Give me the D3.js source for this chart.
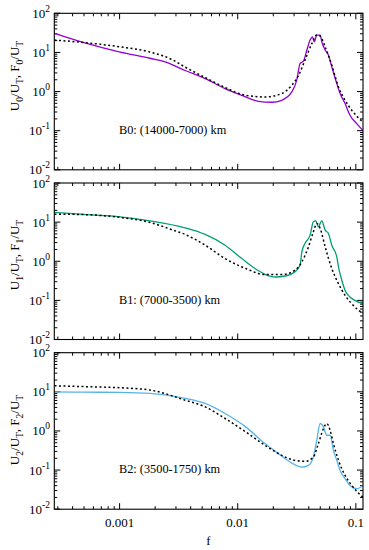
<!DOCTYPE html>
<html><head><meta charset="utf-8">
<script src="https://cdn.jsdelivr.net/npm/d3@7"></script>
<style>body{margin:0;background:#fff}svg{display:block}</style>
</head><body>
<script>
// ---- data (f in x, ratios in y) ----
const panelNames = ["B0: (14000-7000) km", "B1: (7000-3500) km", "B2: (3500-1750) km"];
const panelSubs = ["0", "1", "2"];
const panelColors = ["#9400D3", "#009E73", "#56B4E9"];
const yTicks = [0.01, 0.1, 1, 10, 100];
const yTickExp = ["-2", "-1", "0", "1", "2"];
const xTicks = [0.001, 0.01, 0.1];
const xTickLabels = ["0.001", "0.01", "0.1"];

const b0F = [0.000281,0.000491,0.00101,0.00181,0.00250,0.00300,0.00359,0.0053,0.00782,0.01083,0.01497,0.01945,0.0236,0.0287,0.0316,0.0337,0.0360,0.0385,0.0410,0.0429,0.0446,0.0467,0.0499,0.0515,0.0550,0.0586,0.0626,0.0690,0.0736,0.0811,0.0892,0.1018,0.1145];
const b0U = [30.7,18.0,10.2,7.1,5.6,4.4,3.45,2.15,1.19,0.80,0.564,0.532,0.598,0.977,1.95,5.2,5.98,11.5,20.7,25.1,18.7,27.8,27.8,18.7,11.5,8.53,4.27,1.60,0.889,0.492,0.247,0.151,0.102];
const b0FitF = [0.000281,0.000491,0.00101,0.00181,0.00284,0.00359,0.0053,0.00782,0.0117,0.0170,0.0236,0.0287,0.0328,0.0371,0.0425,0.0467,0.0499,0.0550,0.0626,0.0713,0.0811,0.0924,0.1145];
const b0Fit = [20.7,18.0,13.9,10.2,6.35,4.2,2.28,1.27,0.80,0.728,0.889,1.45,2.62,6.35,17.0,27.8,26.2,13.9,4.72,1.31,0.598,0.332,0.166];

const b1F = [0.000281,0.000491,0.00101,0.00181,0.00359,0.0053,0.00782,0.01083,0.0140,0.0170,0.0208,0.0252,0.0304,0.0337,0.0349,0.0371,0.0410,0.0437,0.0458,0.0482,0.0499,0.0515,0.0550,0.0586,0.0626,0.0690,0.0713,0.0761,0.0811,0.0892,0.0981,0.1145];
const b1U = [17.7,15.7,13.7,10.8,7.14,4.84,2.57,1.17,0.650,0.464,0.396,0.42,0.532,0.789,1.73,2.84,4.64,10.2,10.8,7.57,9.26,10.8,6.23,5.13,2.57,1.29,0.714,0.326,0.180,0.122,0.100,0.082];
const b1FitF = [0.000281,0.000491,0.00101,0.00181,0.00284,0.00359,0.0053,0.00782,0.0117,0.0170,0.0236,0.0304,0.0349,0.0397,0.0437,0.0467,0.0499,0.0550,0.0626,0.0713,0.0811,0.0924,0.1145];
const b1Fit = [16.0,15.6,13.2,9.8,6.23,4.84,2.57,1.17,0.650,0.456,0.456,0.588,0.96,2.33,5.64,9.27,6.89,2.33,0.650,0.268,0.134,0.082,0.0456];

const b2F = [0.000281,0.000491,0.00101,0.00181,0.00359,0.0053,0.00782,0.0117,0.0170,0.0221,0.0287,0.0349,0.0397,0.0437,0.0467,0.0499,0.0532,0.0568,0.0606,0.0646,0.0690,0.0736,0.0811,0.0892,0.1018,0.1145];
const b2U = [10.0,9.8,9.66,9.1,6.78,5.05,2.79,1.27,0.475,0.264,0.151,0.119,0.132,0.216,0.578,1.55,1.27,0.776,0.776,0.320,0.177,0.098,0.060,0.0405,0.0333,0.0405];
const b2FitF = [0.000281,0.000491,0.00101,0.00181,0.00359,0.0053,0.00782,0.0117,0.0170,0.0236,0.0304,0.0371,0.0437,0.0482,0.0532,0.0568,0.0606,0.0646,0.0713,0.0811,0.0924,0.1145];
const b2Fit = [14.3,13.6,12.7,11.1,6.12,4.12,2.08,0.943,0.430,0.238,0.177,0.167,0.216,0.475,1.15,1.55,1.04,0.475,0.177,0.073,0.0405,0.0203];

const obsF = [b0F, b1F, b2F], obsV = [b0U, b1U, b2U];
const fitF = [b0FitF, b1FitF, b2FitF], fitV = [b0Fit, b1Fit, b2Fit];

// ---- layout ----
const W = 369, H = 550;
const left = 54.3, right = 363;
const tops = [13.3, 183, 352.7];
const ph = 156.5;
const labelCenters = [76, 255, 430];
const font = "'Liberation Serif', 'Times New Roman', serif";

const svg = d3.select("body").append("svg").attr("width", W).attr("height", H)
  .style("font-family", font);

const x = d3.scaleLog().domain([0.00028, 0.115]).range([left, right]);

function minorTicks(lo, hi) {
  const out = [];
  for (let e = Math.floor(Math.log10(lo)); e <= Math.ceil(Math.log10(hi)); e++) {
    for (let m = 1; m <= 9; m++) {
      const v = m * Math.pow(10, e);
      if (v >= lo * 0.9999 && v <= hi * 1.0001) out.push({v, major: m === 1});
    }
  }
  return out;
}

for (let p = 0; p < 3; p++) {
  const top = tops[p], bot = top + ph;
  const y = d3.scaleLog().domain([0.01, 100]).range([bot, top]);
  const g = svg.append("g");

  const cid = "clip" + p;
  svg.append("clipPath").attr("id", cid).append("rect")
    .attr("x", left).attr("y", top).attr("width", right - left).attr("height", ph);

  const xt = minorTicks(0.00028, 0.115);
  xt.forEach(t => {
    const L = t.major ? 6 : 3;
    const px = x(t.v);
    g.append("line").attr("x1", px).attr("x2", px).attr("y1", bot).attr("y2", bot - L).attr("stroke", "#000").attr("stroke-width", 1);
    g.append("line").attr("x1", px).attr("x2", px).attr("y1", top).attr("y2", top + L).attr("stroke", "#000").attr("stroke-width", 1);
  });
  const yt = minorTicks(0.01, 100);
  yt.forEach(t => {
    const L = t.major ? 6 : 3;
    const py = y(t.v);
    g.append("line").attr("x1", left).attr("x2", left + L).attr("y1", py).attr("y2", py).attr("stroke", "#000").attr("stroke-width", 1);
    g.append("line").attr("x1", right).attr("x2", right - L).attr("y1", py).attr("y2", py).attr("stroke", "#000").attr("stroke-width", 1);
  });

  yTicks.forEach((v, i) => {
    const t = g.append("text").attr("x", 50).attr("y", y(v) + 4.5)
      .attr("text-anchor", "end").attr("font-size", 13).attr("fill", "#000");
    t.append("tspan").text("10");
    t.append("tspan").attr("dy", -6).attr("font-size", 9.5).text(yTickExp[i]);
  });

  const s = panelSubs[p];
  const lab = g.append("text")
    .attr("transform", `translate(19,${labelCenters[p]}) rotate(-90)`)
    .attr("text-anchor", "middle").attr("font-size", 13).attr("fill", "#000");
  const parts = [["U", 0], [s, 1], ["/U", 0], ["T", 1], [", F", 0], [s, 1], ["/U", 0], ["T", 1]];
  let prevSub = 0;
  parts.forEach(([txt, sub]) => {
    const ts = lab.append("tspan").text(txt);
    const dy = (sub - prevSub) * 3.5;
    if (dy !== 0) ts.attr("dy", dy);
    if (sub) ts.attr("font-size", 9.5);
    prevSub = sub;
  });

  g.append("text").attr("x", 119).attr("y", top + 120.5)
    .attr("font-size", 12.3).attr("fill", "#000").text(panelNames[p]);

  const line = d3.line().x(d => x(d[0])).y(d => y(d[1])).curve(d3.curveMonotoneX);
  const obs = obsF[p].map((f, i) => [f, obsV[p][i]]);
  const fit = fitF[p].map((f, i) => [f, fitV[p][i]]);
  g.append("path").attr("clip-path", `url(#${cid})`).attr("d", line(obs))
    .attr("fill", "none").attr("stroke", panelColors[p]).attr("stroke-width", 1.3);
  g.append("path").attr("clip-path", `url(#${cid})`).attr("d", line(fit))
    .attr("fill", "none").attr("stroke", "#000").attr("stroke-width", 1.5)
    .attr("stroke-dasharray", "2,2.5");

  g.append("rect").attr("x", left).attr("y", top).attr("width", right - left).attr("height", ph)
    .attr("fill", "none").attr("stroke", "#000").attr("stroke-width", 1.1);

  if (p === 2) {
    xTicks.forEach((v, i) => {
      g.append("text").attr("x", x(v)).attr("y", bot + 17.5).attr("text-anchor", "middle")
        .attr("font-size", 13).attr("fill", "#000").text(xTickLabels[i]);
    });
    g.append("text").attr("x", 208.5).attr("y", 545).attr("text-anchor", "middle")
      .attr("font-size", 13).attr("fill", "#000").text("f");
  }
}
</script>
</body></html>
